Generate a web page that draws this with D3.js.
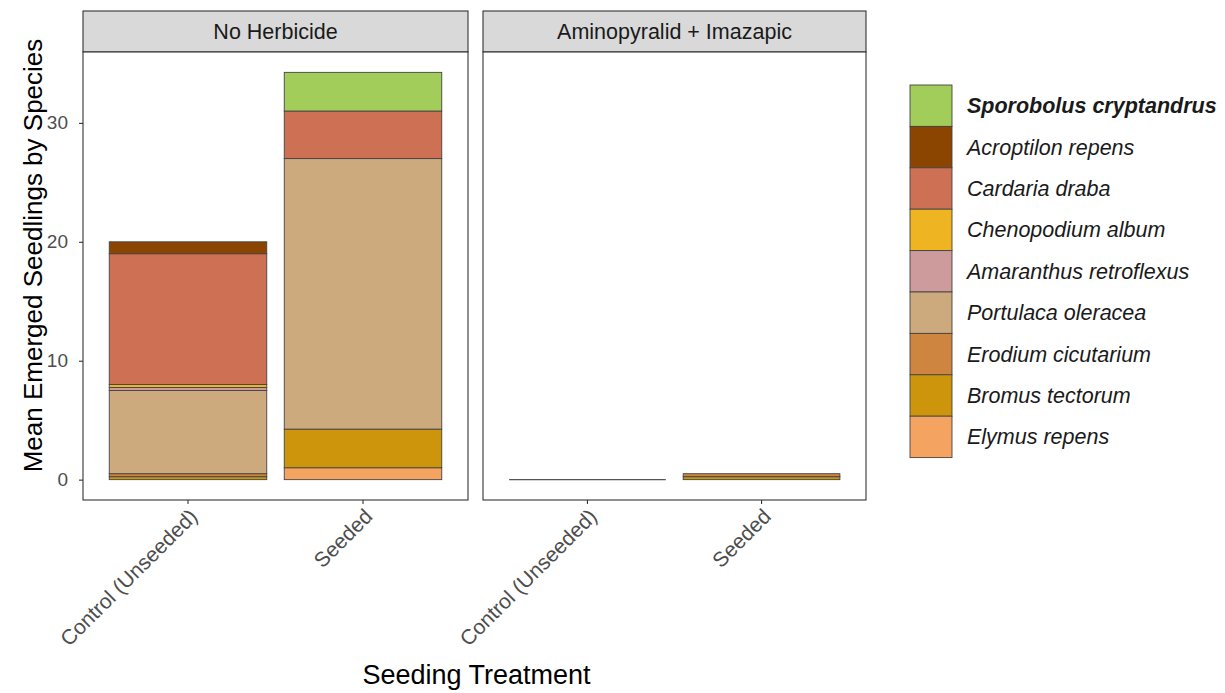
<!DOCTYPE html>
<html>
<head>
<meta charset="utf-8">
<script src="https://cdn.jsdelivr.net/npm/d3@7"></script>
<style>
  body { margin: 0; background: #fff; }
  svg text { font-family: "Liberation Sans", Arial, sans-serif; }
</style>
</head>
<body>
<svg id="chart" width="1225" height="693"></svg>
<script>
// Species, listed top-of-stack first (legend order)
const species = [
  "Sporobolus cryptandrus", "Acroptilon repens", "Cardaria draba",
  "Chenopodium album", "Amaranthus retroflexus", "Portulaca oleracea",
  "Erodium cicutarium", "Bromus tectorum", "Elymus repens"
];
const speciesColors = [
  "#A2CD5A", "#8B4500", "#CD7054", "#EEB422", "#CD9B9B",
  "#CDAA7D", "#CD853F", "#CD950C", "#F4A460"
];
const facets = ["No Herbicide", "Aminopyralid + Imazapic"];
const treatments = ["Control (Unseeded)", "Seeded"];
const yTicks = [0, 10, 20, 30];

// Mean emerged seedlings per species (same order as `species`)
const noHerbControl   = [0, 1, 11, 0.25, 0.25, 7, 0.25, 0.25, 0];
const noHerbSeeded    = [3.25, 0, 4, 0, 0, 22.75, 0, 3.25, 1];
const herbControl     = [0, 0, 0, 0, 0, 0, 0, 0, 0];
const herbSeeded      = [0, 0, 0, 0, 0, 0, 0.25, 0.25, 0];

const values = {
  "No Herbicide": { "Control (Unseeded)": noHerbControl, "Seeded": noHerbSeeded },
  "Aminopyralid + Imazapic": { "Control (Unseeded)": herbControl, "Seeded": herbSeeded }
};

const svg = d3.select("#chart");
const panelTop = 52, panelBottom = 500, stripTop = 11;
const panelX = [[83, 468], [483, 866]];
const barStroke = "#444";

const color = d3.scaleOrdinal().domain(species).range(speciesColors);

const totals = facets.flatMap(f => treatments.map(t => d3.sum(values[f][t])));
const yMax = d3.max(totals);
const pad = yMax * 0.05;
const y = d3.scaleLinear().domain([-pad, yMax + pad]).range([panelBottom, panelTop]);

// Stacks are built bottom-up, so the last species sits on the ground
const stackOrder = species.slice().reverse();

facets.forEach((facet, fi) => {
  const [x0, x1] = panelX[fi];
  const x = d3.scaleBand().domain(treatments).range([x0, x1])
    .paddingInner(0.1).paddingOuter(0.15);

  const g = svg.append("g");

  // strip
  g.append("rect").attr("x", x0).attr("y", stripTop)
    .attr("width", x1 - x0).attr("height", panelTop - stripTop)
    .attr("fill", "#d9d9d9").attr("stroke", "#333").attr("stroke-width", 1.1);
  g.append("text").attr("x", (x0 + x1) / 2).attr("y", (stripTop + panelTop) / 2 + 7.5)
    .attr("text-anchor", "middle").attr("font-size", 21.5).attr("fill", "#1a1a1a")
    .text(facet);

  // panel background
  g.append("rect").attr("x", x0).attr("y", panelTop)
    .attr("width", x1 - x0).attr("height", panelBottom - panelTop)
    .attr("fill", "#fff");

  // stacked bars
  treatments.forEach(t => {
    const vals = values[facet][t];
    if (d3.sum(vals) === 0) {
      // an empty stack collapses to its outline at zero
      g.append("line")
        .attr("x1", x(t)).attr("x2", x(t) + x.bandwidth())
        .attr("y1", y(0)).attr("y2", y(0))
        .attr("stroke", "#555").attr("stroke-width", 1.2);
      return;
    }
    let base = 0;
    stackOrder.forEach(sp => {
      const v = vals[species.indexOf(sp)];
      const top = base + v;
      if (v > 0) {
        g.append("rect")
          .attr("x", x(t)).attr("width", x.bandwidth())
          .attr("y", y(top)).attr("height", y(base) - y(top))
          .attr("fill", color(sp))
          .attr("stroke", barStroke).attr("stroke-width", 0.9);
      }
      base = top;
    });
  });

  // panel border
  g.append("rect").attr("x", x0).attr("y", panelTop)
    .attr("width", x1 - x0).attr("height", panelBottom - panelTop)
    .attr("fill", "none").attr("stroke", "#333").attr("stroke-width", 1.1);

  // x axis
  const xAxis = g.append("g").attr("transform", `translate(0,${panelBottom})`)
    .call(d3.axisBottom(x).tickSize(4).tickSizeOuter(0));
  xAxis.select(".domain").remove();
  xAxis.selectAll(".tick line").attr("stroke", "#333").attr("stroke-width", 1.1);
  xAxis.selectAll(".tick text")
    .attr("font-size", 21).attr("fill", "#4d4d4d")
    .attr("text-anchor", "end")
    .attr("y", 0).attr("dy", "0.72em")
    .attr("transform", "translate(0,7) rotate(-45)");
});

// y axis on the first panel
const yAxis = svg.append("g").attr("transform", `translate(${panelX[0][0]},0)`)
  .call(d3.axisLeft(y).tickValues(yTicks).tickSize(4).tickPadding(11));
yAxis.select(".domain").remove();
yAxis.selectAll(".tick line").attr("stroke", "#333").attr("stroke-width", 1.1);
yAxis.selectAll(".tick text").attr("font-size", 19).attr("fill", "#4d4d4d");

// axis titles (y title spans strips and panels)
svg.append("text")
  .attr("transform", `translate(42,${(stripTop + panelBottom) / 2}) rotate(-90)`)
  .attr("text-anchor", "middle").attr("font-size", 26).attr("fill", "#000")
  .text("Mean Emerged Seedlings by Species");
svg.append("text")
  .attr("x", (panelX[0][0] + panelX[1][1]) / 2 + 2).attr("y", 684)
  .attr("text-anchor", "middle").attr("font-size", 27).attr("fill", "#000")
  .text("Seeding Treatment");

// legend
const legend = svg.append("g").attr("transform", "translate(910,85)");
const keyH = 41.4, keyW = 42;
species.forEach((sp, i) => {
  const row = legend.append("g").attr("transform", `translate(0,${i * keyH})`);
  row.append("rect").attr("width", keyW).attr("height", keyH)
    .attr("fill", color(sp)).attr("stroke", barStroke).attr("stroke-width", 0.9);
  row.append("text").attr("x", keyW + 15).attr("y", keyH / 2 + 7.5)
    .attr("font-size", 21.5).attr("font-style", "italic")
    .attr("font-weight", i === 0 ? "bold" : "normal")
    .attr("fill", "#1a1a1a").text(sp);
});
</script>
</body>
</html>
